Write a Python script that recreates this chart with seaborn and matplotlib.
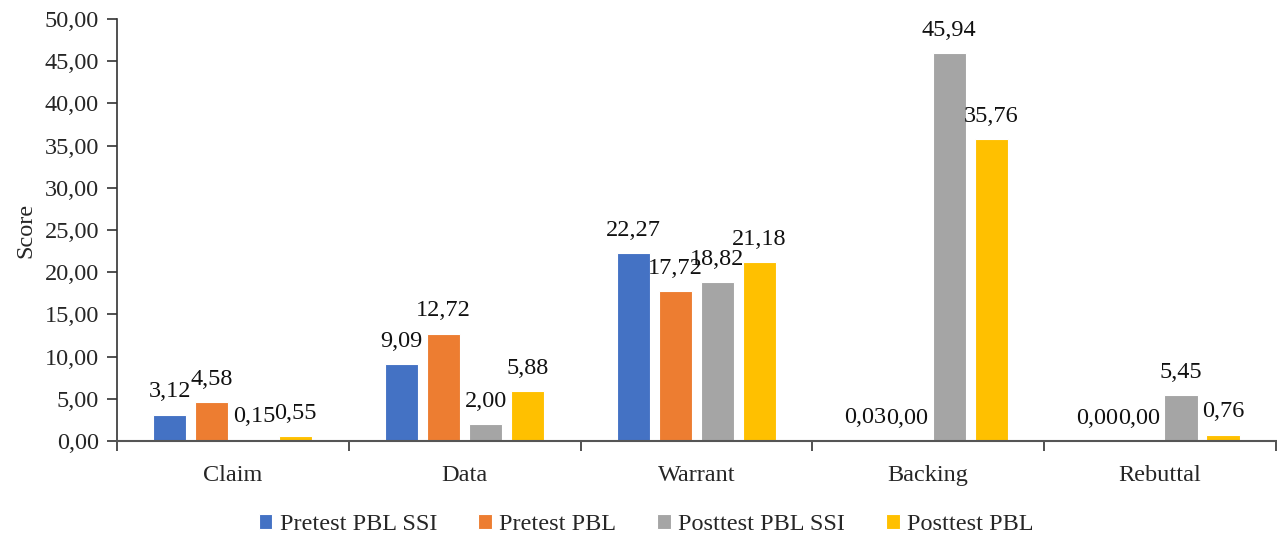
import matplotlib
matplotlib.use("Agg")
import matplotlib.pyplot as plt
from matplotlib.ticker import FuncFormatter, FixedLocator
import pandas as pd
import seaborn as sns

categories = ["Claim", "Data", "Warrant", "Backing", "Rebuttal"]
series = ["Pretest PBL SSI", "Pretest PBL", "Posttest PBL SSI", "Posttest PBL"]
pretest_pbl_ssi = [3.12, 9.09, 22.27, 0.03, 0.00]
pretest_pbl = [4.58, 12.72, 17.72, 0.00, 0.00]
posttest_pbl_ssi = [0.15, 2.00, 18.82, 45.94, 5.45]
posttest_pbl = [0.55, 5.88, 21.18, 35.76, 0.76]
colors = ["#4472C4", "#ED7D31", "#A5A5A5", "#FFC000"]
y_ticks = [0, 5, 10, 15, 20, 25, 30, 35, 40, 45, 50]

rows = []
for name, vals in zip(series, [pretest_pbl_ssi, pretest_pbl, posttest_pbl_ssi, posttest_pbl]):
    for cat, v in zip(categories, vals):
        rows.append({"category": cat, "series": name, "score": v})
df = pd.DataFrame(rows)

sns.set_style("ticks")
plt.rcParams["font.family"] = ["Liberation Serif", "DejaVu Serif"]
FS = 17.5
plt.rcParams["font.size"] = FS

def comma(v, pos=None):
    return f"{v:.2f}".replace(".", ",")

fig = plt.figure(figsize=(12.77, 5.40), dpi=100)
ax = fig.add_axes([0.0916, 0.1833, 0.9075, 0.7817])

sns.barplot(data=df, x="category", y="score", hue="series", order=categories,
            hue_order=series, palette=colors, width=0.725, gap=0.21,
            edgecolor="white", linewidth=0.8, saturation=1, ax=ax, legend=True)

for cont in ax.containers:
    ax.bar_label(cont, labels=[comma(b.get_height()) for b in cont],
                 padding=9, fontsize=FS, color="#111111")

ax.set_xlim(-0.5, len(categories) - 0.5)
ax.set_ylim(0, 50)
ax.yaxis.set_major_locator(FixedLocator(y_ticks))
ax.yaxis.set_major_formatter(FuncFormatter(comma))
ax.set_xlabel("")
ax.set_ylabel("Score", fontsize=FS, labelpad=6)

ax.xaxis.set_minor_locator(FixedLocator([i - 0.5 for i in range(len(categories) + 1)]))
ax.tick_params(axis="x", which="major", length=0, pad=17, labelsize=FS)
ax.tick_params(axis="x", which="minor", length=7, width=1.2, color="#333333", direction="out")
ax.tick_params(axis="y", which="major", length=7, width=1.2, color="#333333", labelsize=FS, pad=6)

for side in ["top", "right"]:
    ax.spines[side].set_visible(False)
ax.spines["left"].set_color("#333333")
ax.spines["bottom"].set_color("#555555")
ax.spines["left"].set_linewidth(1.2)
ax.spines["bottom"].set_linewidth(1.5)

ax.legend(ncol=4, loc="center", bbox_to_anchor=(0.506, 0.028),
          bbox_transform=fig.transFigure, frameon=False,
          fontsize=FS, handlelength=0.55, handleheight=0.55, handletextpad=0.3,
          columnspacing=1.7, borderpad=0)

fig.savefig("out.png", dpi=100)
